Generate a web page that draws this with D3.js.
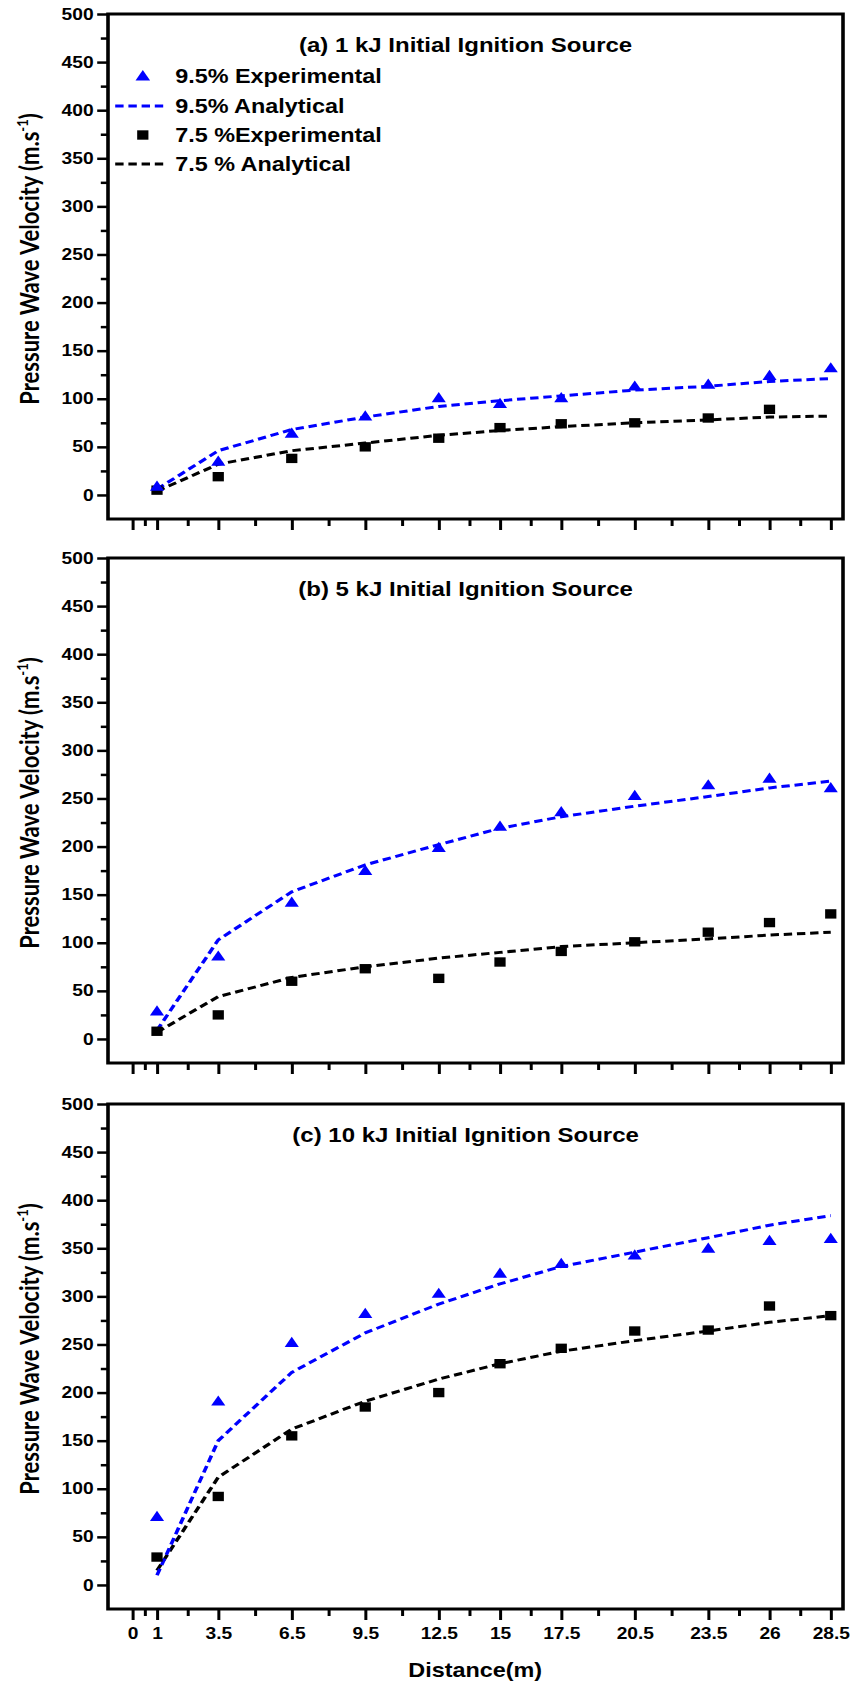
<!DOCTYPE html>
<html>
<head>
<meta charset="utf-8">
<script src="https://cdn.jsdelivr.net/npm/d3@7"></script>
<style>
  body { margin: 0; background: #fff; }
  svg text { font-family: "Liberation Sans", Arial, sans-serif; font-weight: bold; fill: #000; }
  .ylab { font-family: Lato, "Open Sans", sans-serif; }
</style>
</head>
<body>
<svg id="chart" width="852" height="1688"></svg>
<script>
const distance = [1, 3.5, 6.5, 9.5, 12.5, 15, 17.5, 20.5, 23.5, 26, 28.5];
const xTickValues = [0, 1, 3.5, 6.5, 9.5, 12.5, 15, 17.5, 20.5, 23.5, 26, 28.5];
const yTickValues = [0, 50, 100, 150, 200, 250, 300, 350, 400, 450, 500];

// (a) 1 kJ
const exp95_1kJ = [8, 34, 63, 81, 100, 94, 100, 112, 114, 123, 131];
const ana95_1kJ = [6, 46, 68, 81, 92, 98, 103, 109, 113, 118, 121];
const exp75_1kJ = [5, 19, 38, 50, 59, 70, 74, 75, 80, 89, null];
const ana75_1kJ = [4, 32, 46, 54, 62, 67, 71, 75, 78, 81, 82];

// (b) 5 kJ
const exp95_5kJ = [28, 85, 141, 174, 198, 220, 235, 252, 263, 270, 260];
const ana95_5kJ = [9, 103, 153, 181, 202, 219, 231, 242, 252, 261, 268];
const exp75_5kJ = [8, 25, 60, 73, 63, 80, 91, 101, 111, 121, 130];
const ana75_5kJ = [7, 44, 64, 75, 84, 90, 96, 100, 104, 108, 111];

// (c) 10 kJ
const exp95_10kJ = [70, 190, 251, 281, 302, 323, 333, 342, 349, 357, 359];
const ana95_10kJ = [10, 150, 221, 262, 292, 313, 331, 346, 361, 374, 384];
const exp75_10kJ = [29, 92, 155, 185, 200, 230, 246, 264, 265, 290, 280];
const ana75_10kJ = [15, 112, 162, 191, 214, 230, 243, 254, 264, 273, 280];

const titles = ['(a) 1 kJ Initial Ignition Source', '(b) 5 kJ Initial Ignition Source', '(c) 10 kJ Initial Ignition Source'];
const legendLabels = ['9.5% Experimental', '9.5% Analytical', '7.5 %Experimental', '7.5 % Analytical'];

const BLUE = '#0000ff';
const SX = 1.2;            // the source figure is stretched sideways
const PH = 505;            // panel plot height
const panelTops = [14, 558, 1104];

const svg = d3.select('#chart');
const root = svg.append('g').attr('transform', `scale(${SX},1)`);

const x = d3.scaleLinear().domain([-1, 29]).range([90, 702.5]);
const [x0, x1] = x.range();

const minorX = d3.pairs(xTickValues).map(([a, b]) => (a + b) / 2);
const minorY = d3.range(25, 500, 50);

const triangle = d3.symbol(d3.symbolTriangle, 60);
const square = d3.symbol(d3.symbolSquare, 88);

const panels = [
  { exp95: exp95_1kJ, ana95: ana95_1kJ, exp75: exp75_1kJ, ana75: ana75_1kJ },
  { exp95: exp95_5kJ, ana95: ana95_5kJ, exp75: exp75_5kJ, ana75: ana75_5kJ },
  { exp95: exp95_10kJ, ana95: ana95_10kJ, exp75: exp75_10kJ, ana75: ana75_10kJ }
];

function styleAxis(sel, width) {
  sel.attr('font-family', null).attr('font-size', 16);
  sel.select('.domain').remove();
  sel.selectAll('.tick line').attr('stroke-width', width);
}

panels.forEach((p, i) => {
  const top = panelTops[i];
  const y = d3.scaleLinear().domain([-25, 500]).range([top + PH, top]);
  const g = root.append('g');
  const last = i === panels.length - 1;

  // y axis
  g.append('g').attr('transform', `translate(${x0},0)`)
    .call(d3.axisLeft(y).tickValues(minorY).tickSize(6).tickFormat(''))
    .call(s => styleAxis(s, 2.5));
  g.append('g').attr('transform', `translate(${x0},0)`)
    .call(d3.axisLeft(y).tickValues(yTickValues).tickSize(9).tickPadding(3))
    .call(s => styleAxis(s, 2.5));

  // x axis
  g.append('g').attr('transform', `translate(0,${top + PH})`)
    .call(d3.axisBottom(x).tickValues(minorX).tickSize(7).tickFormat(''))
    .call(s => styleAxis(s, 2.5));
  g.append('g').attr('transform', `translate(0,${top + PH})`)
    .call(d3.axisBottom(x).tickValues(xTickValues).tickSize(11).tickPadding(8)
      .tickFormat(last ? d => d : ''))
    .call(s => styleAxis(s, 2.5));

  // frame
  g.append('rect')
    .attr('x', x0).attr('y', top)
    .attr('width', x1 - x0).attr('height', PH)
    .attr('fill', 'none').attr('stroke', '#000').attr('stroke-width', 3);

  // title
  g.append('text')
    .attr('x', 388).attr('y', top + 38)
    .attr('text-anchor', 'middle').attr('font-size', 20)
    .text(titles[i]);

  // y label
  const yl = g.append('text')
    .attr('class', 'ylab')
    .attr('transform', `translate(32.5,${top + 245}) rotate(-90)`)
    .attr('text-anchor', 'middle').attr('font-size', 22);
  yl.append('tspan').text('Pressure Wave Velocity (m.s');
  yl.append('tspan').attr('dy', -9).attr('font-size', 13).text('-1');
  yl.append('tspan').attr('dy', 9).text(')');

  const line = d3.line()
    .defined(d => d[1] != null)
    .x(d => x(d[0])).y(d => y(d[1]));

  const pts = vals => distance.map((d, k) => [d, vals[k]]);

  g.append('path').datum(pts(p.ana75))
    .attr('d', line).attr('fill', 'none')
    .attr('stroke', '#000').attr('stroke-width', 3).attr('stroke-dasharray', '7,4');
  g.append('path').datum(pts(p.ana95))
    .attr('d', line).attr('fill', 'none')
    .attr('stroke', BLUE).attr('stroke-width', 3).attr('stroke-dasharray', '7,4');

  g.append('g').selectAll('path')
    .data(pts(p.exp75).filter(d => d[1] != null)).join('path')
    .attr('d', square).attr('fill', '#000')
    .attr('transform', d => `translate(${x(d[0])},${y(d[1])})`);
  g.append('g').selectAll('path')
    .data(pts(p.exp95).filter(d => d[1] != null)).join('path')
    .attr('d', triangle).attr('fill', BLUE)
    .attr('transform', d => `translate(${x(d[0])},${y(d[1])})`);

  if (i === 0) {
    const leg = g.append('g');
    const rowY = [76, 106, 135, 164];
    leg.append('path').attr('d', d3.symbol(d3.symbolTriangle, 64)())
      .attr('fill', BLUE).attr('transform', `translate(119,${rowY[0] + 1})`);
    leg.append('line').attr('x1', 96).attr('x2', 138).attr('y1', rowY[1]).attr('y2', rowY[1])
      .attr('stroke', BLUE).attr('stroke-width', 3).attr('stroke-dasharray', '7,4');
    leg.append('path').attr('d', square())
      .attr('fill', '#000').attr('transform', `translate(119,${rowY[2]})`);
    leg.append('line').attr('x1', 96).attr('x2', 138).attr('y1', rowY[3]).attr('y2', rowY[3])
      .attr('stroke', '#000').attr('stroke-width', 3).attr('stroke-dasharray', '7,4');
    leg.selectAll('text').data(legendLabels).join('text')
      .attr('x', 146).attr('y', (d, k) => rowY[k] + 7.5)
      .attr('font-size', 19.5)
      .text(d => d);
  }
});

root.append('text')
  .attr('x', 396).attr('y', 1677)
  .attr('text-anchor', 'middle').attr('font-size', 19.5)
  .text('Distance(m)');
</script>
</body>
</html>
